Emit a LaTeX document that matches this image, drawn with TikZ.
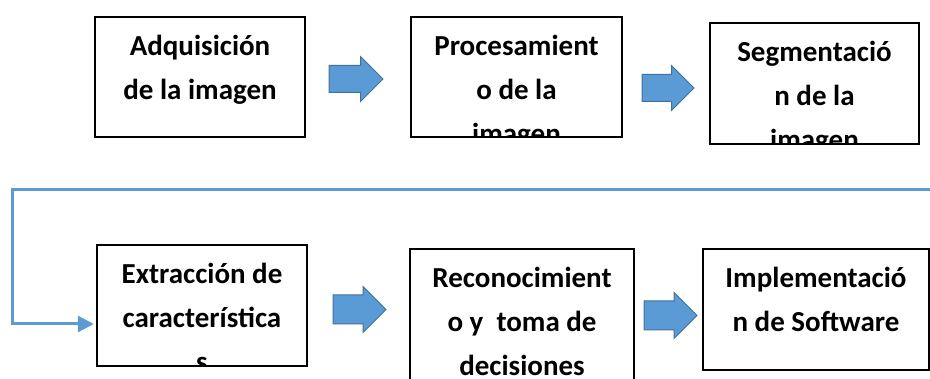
\documentclass[tikz,border=0pt]{standalone}
\usepackage{fontspec}
\setmainfont{Carlito}
\usepackage{tikz}
\usetikzlibrary{shapes.arrows}
\usetikzlibrary{arrows.meta}
\definecolor{azul}{HTML}{5B9BD5}
\definecolor{azulborde}{HTML}{41719C}
\tikzset{rotulo/.style={path picture={\node[texto,text width=220pt] at ([yshift=-39pt]path picture bounding box.north) {#1};}}}

\begin{document}
\begin{tikzpicture}[x=1pt,y=-1pt]
	\tikzstyle{caja}=[rectangle,draw=black,line width=2.4pt,inner sep=0pt,minimum height=121pt]
	\tikzstyle{texto}=[font=\bfseries\fontsize{29}{44}\selectfont,align=flush center,inner sep=0pt,anchor=base,text=black]
	\tikzstyle{flecha}=[single arrow,draw=azulborde,fill=azul,line width=1pt,minimum height=54pt,inner xsep=0pt,inner ysep=13pt,single arrow head extend=9pt,anchor=tail]
	\tikzstyle{enlace}=[draw=azul,line width=3pt]
	\useasboundingbox (0,0) rectangle (930,379);

	% fila de arriba
	\node (adquisicion)[caja,minimum width=210pt,minimum height=120pt,rotulo={Adquisición\\de la imagen}] at (200,77) {};
	\node (procesamiento)[caja,minimum width=211pt,minimum height=120pt,rotulo={Procesamient\\o de la\\imagen}] at (516.5,77) {};
	\node (segmentacion)[caja,minimum width=209pt,rotulo={Segmentació\\n de la\\imagen}] at (814.5,83.5) {};

	% fila de abajo
	\node (extraccion)[caja,minimum width=210pt,rotulo={Extracción de\\característica\\s}] at (202,305.5) {};
	\node (reconocimiento)[caja,minimum width=224pt,minimum height=150pt,rotulo={Reconocimient\\o y\ \ toma de\\decisiones}] at (522,324) {};
	\node (implementacion)[caja,minimum width=226pt,rotulo={Implementació\\n de Software}] at (816,309.5) {};

	\node (f1)[flecha] at (328.5,79) {};
	\node (f2)[flecha,minimum height=52pt] at (641.5,88) {};
	\node (f3)[flecha,minimum height=53pt,inner ysep=14pt,single arrow head extend=8.5pt] at (332.5,309.5) {};
	\node (f4)[flecha,minimum height=53pt,inner ysep=14pt,single arrow head extend=8.5pt] at (643.5,315.5) {};

	\coordinate (borde) at (930,190);
	\draw[enlace,-{Triangle[length=16pt,width=16pt]},shorten >=2pt] (borde) -- (12,190) |- ([yshift=-18.5pt]extraccion.west);
\end{tikzpicture}
\end{document}
